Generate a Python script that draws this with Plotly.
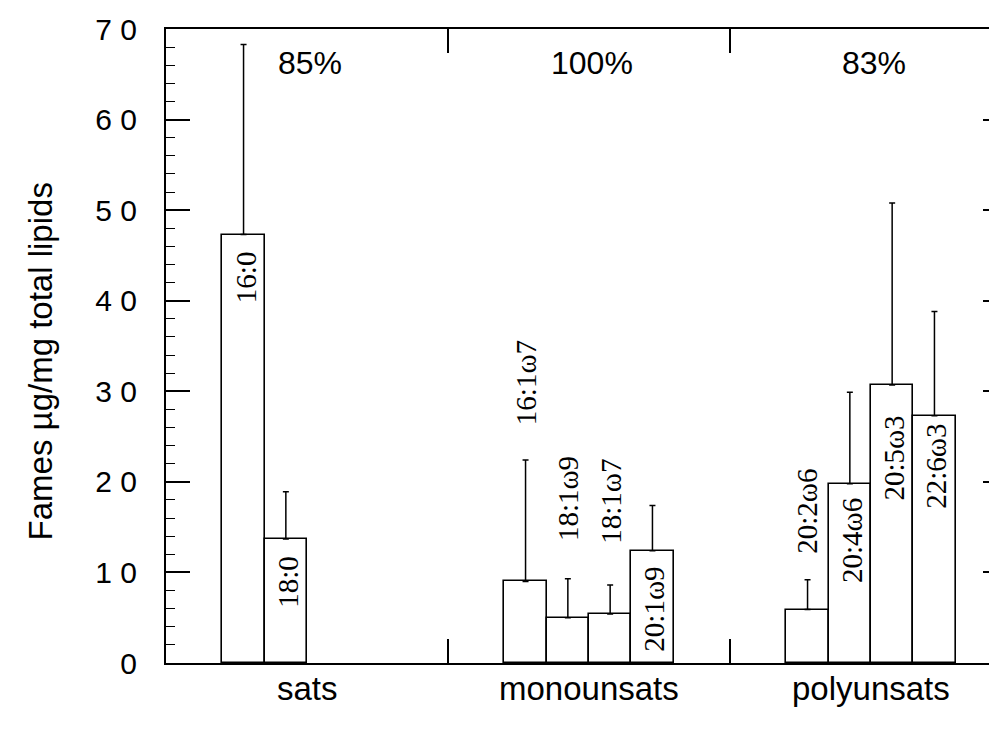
import plotly.graph_objects as go

# ---- data ----
groups = ["sats", "monounsats", "polyunsats"]
group_pct = ["85%", "100%", "83%"]

sats_names = ["16:0", "18:0"]
sats_vals = [47.3, 13.7]
sats_err = [21.0, 5.2]

mono_names = ["16:1ω7", "18:1ω9", "18:1ω7", "20:1ω9"]
mono_vals = [9.0, 5.0, 5.4, 12.4]
mono_err = [13.4, 4.3, 3.2, 5.0]

poly_names = ["20:2ω6", "20:4ω6", "20:5ω3", "22:6ω3"]
poly_vals = [5.9, 19.8, 30.7, 27.3]
poly_err = [3.3, 10.1, 20.1, 11.5]

y_tickvals = [0, 10, 20, 30, 40, 50, 60, 70]
y_ticktext = ["0", "1 0", "2 0", "3 0", "4 0", "5 0", "6 0", "7 0"]

# ---- label placement (style): 'in' = inside bar top, 'out' = above error bar; pixel gap
sats_lab = [("in", 16), ("in", 16)]
mono_lab = [("out", 34), ("out", 37), ("out", 40), ("in", 15)]
poly_lab = [("out", 25), ("in", 13), ("in", 30), ("in", 7)]

SLOT_W = 0.15
SANS = "Liberation Sans, Arial, Helvetica, sans-serif"
SERIF = "Liberation Serif, Times New Roman, serif"

fig = go.Figure()
annotations = []

all_groups = [
    (sats_names, sats_vals, sats_err, sats_lab),
    (mono_names, mono_vals, mono_err, mono_lab),
    (poly_names, poly_vals, poly_err, poly_lab),
]

for gi, (names, vals, errs, labs) in enumerate(all_groups):
    xs = [gi + (k - 1.5) * SLOT_W for k in range(len(names))]
    fig.add_trace(go.Bar(
        x=xs, y=vals, width=SLOT_W,
        marker=dict(color="white", line=dict(color="black", width=1.6)),
        error_y=dict(type="data", array=errs, arrayminus=[0] * len(errs),
                     symmetric=False, color="black", thickness=1.5, width=3),
        showlegend=False, hoverinfo="skip",
    ))
    for x, v, e, n, (mode, gap) in zip(xs, vals, errs, names, labs):
        if mode == "in":
            annotations.append(dict(x=x, y=v, xref="x", yref="y", text=n,
                                    textangle=-90, showarrow=False,
                                    xanchor="center", yanchor="top", yshift=-gap + 1,
                                    xshift=2,
                                    font=dict(family=SERIF, size=29, color="black")))
        else:
            annotations.append(dict(x=x, y=v + e, xref="x", yref="y", text=n,
                                    textangle=-90, showarrow=False,
                                    xanchor="center", yanchor="bottom", yshift=gap - 1,
                                    xshift=0,
                                    font=dict(family=SERIF, size=29, color="black")))

for gi, p in enumerate(group_pct):
    annotations.append(dict(x=gi, y=66.3, xref="x", yref="y", text=p, showarrow=False,
                            xanchor="center", yanchor="middle", xshift=3,
                            font=dict(family=SANS, size=32, color="black")))

# category labels under the groups
for gi, g in enumerate(groups):
    annotations.append(dict(x=gi, y=0, xref="x", yref="y", text=g, showarrow=False,
                            xanchor="center", yanchor="top", yshift=-5,
                            font=dict(family=SANS, size=33, color="black")))

# y title (plot area is 831 px wide; title centre ~126 px left of the axis)
annotations.append(dict(x=-126 / 831, y=33.3, xref="paper", yref="y",
                        text="Fames µg/mg total lipids", textangle=-90, showarrow=False,
                        xanchor="center", yanchor="middle",
                        font=dict(family=SANS, size=33, color="black")))

x_right = -0.5 + 831 / 282

fig.update_layout(
    width=989, height=721,
    margin=dict(l=158, r=0, t=21, b=66),
    paper_bgcolor="white", plot_bgcolor="white",
    bargap=0, barmode="overlay",
    annotations=annotations,
    xaxis=dict(range=[-0.5, x_right], tickmode="array", tickvals=[0, 1, 2],
               ticktext=["", "", ""], ticks="", showgrid=False, zeroline=False,
               showline=True, linecolor="black", linewidth=2, mirror="ticks",
               minor=dict(tickmode="array", tickvals=[0.5, 1.5], ticks="inside",
                          ticklen=24, tickwidth=1.5, tickcolor="black", showgrid=False)),
    yaxis=dict(range=[0, 70], tickmode="array", tickvals=y_tickvals, ticktext=y_ticktext,
               ticks="inside", ticklen=24, tickwidth=1.5, tickcolor="black",
               showgrid=False, zeroline=False, showline=True, linecolor="black", linewidth=2,
               tickfont=dict(family=SANS, size=30, color="black"),
               ticklabelstandoff=21,
               minor=dict(dtick=2, ticks="inside", ticklen=9, tickwidth=1.2,
                          tickcolor="black", showgrid=False)),
    yaxis2=dict(range=[0, 70], overlaying="y", side="right", anchor="x",
                tickmode="array", tickvals=y_tickvals, ticks="inside", ticklen=14,
                tickwidth=1.5, tickcolor="black", showticklabels=False,
                showgrid=False, zeroline=False, showline=False,
                minor=dict(dtick=2, ticks="inside", ticklen=3, tickwidth=1.2,
                           tickcolor="black", showgrid=False)),
)

# invisible trace to make sure the right-hand axis is drawn
fig.add_trace(go.Scatter(x=[0], y=[0], yaxis="y2", mode="markers",
                         marker=dict(opacity=0), showlegend=False, hoverinfo="skip"))

fig.write_html("out.html")
